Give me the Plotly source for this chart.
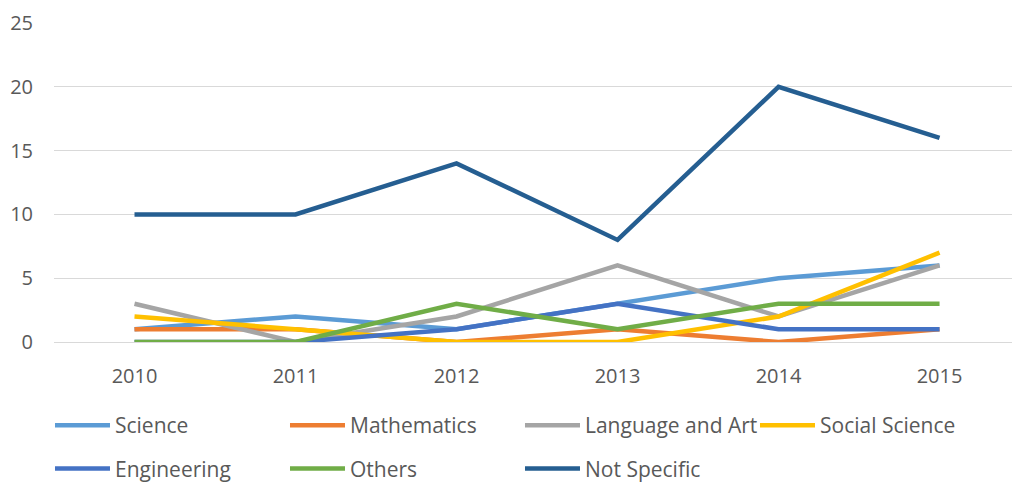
import plotly.graph_objects as go

years = ["2010", "2011", "2012", "2013", "2014", "2015"]
science = [1, 2, 1, 3, 5, 6]
mathematics = [1, 1, 0, 1, 0, 1]
language_art = [3, 0, 2, 6, 2, 6]
social_science = [2, 1, 0, 0, 2, 7]
engineering = [0, 0, 1, 3, 1, 1]
others = [0, 0, 3, 1, 3, 3]
not_specific = [10, 10, 14, 8, 20, 16]

series = [
    ("Science", science, "#5B9BD5", "legend"),
    ("Mathematics", mathematics, "#ED7D31", "legend"),
    ("Language and Art", language_art, "#A5A5A5", "legend"),
    ("Social Science", social_science, "#FFC000", "legend"),
    ("Engineering", engineering, "#4472C4", "legend2"),
    ("Others", others, "#70AD47", "legend2"),
    ("Not Specific", not_specific, "#255E91", "legend2"),
]

fig = go.Figure()
for name, vals, color, lg in series:
    fig.add_trace(go.Scatter(x=list(range(len(years))), y=vals, name=name, mode="lines",
                             line=dict(color=color, width=4.5), legend=lg))

tick_font = dict(family="Open Sans, Liberation Sans, sans-serif", size=20, color="#595959")
leg_font = dict(family="Open Sans, Liberation Sans, sans-serif", size=21, color="#595959")
legend_common = dict(orientation="h", xanchor="left", yanchor="top",
                     xref="container", yref="container",
                     entrywidth=165, entrywidthmode="pixels",
                     bgcolor="rgba(0,0,0,0)", font=leg_font, itemwidth=55)

fig.update_layout(
    width=1012, height=483,
    margin=dict(l=54, r=0, t=23, b=141),
    plot_bgcolor="white", paper_bgcolor="white",
    font=tick_font,
    xaxis=dict(tickmode="array", tickvals=list(range(len(years))), ticktext=years,
               range=[-0.5, 5.45], showgrid=False, zeroline=False, showline=False,
               ticks="", ticklabelstandoff=20, automargin=False),
    yaxis=dict(range=[0, 25], dtick=5, showgrid=True, gridcolor="#D9D9D9", gridwidth=1,
               zeroline=True, zerolinecolor="#D9D9D9", zerolinewidth=1,
               showline=False, ticks="", ticklabelstandoff=20, automargin=False),
    legend=dict(x=0.0494, y=0.1615, **legend_common),
    legend2=dict(x=0.0494, y=0.0715, **legend_common),
)

fig.write_html("out.html", config={"displayModeBar": False},
               post_script="document.body.style.margin='0';document.body.style.overflow='hidden';")
